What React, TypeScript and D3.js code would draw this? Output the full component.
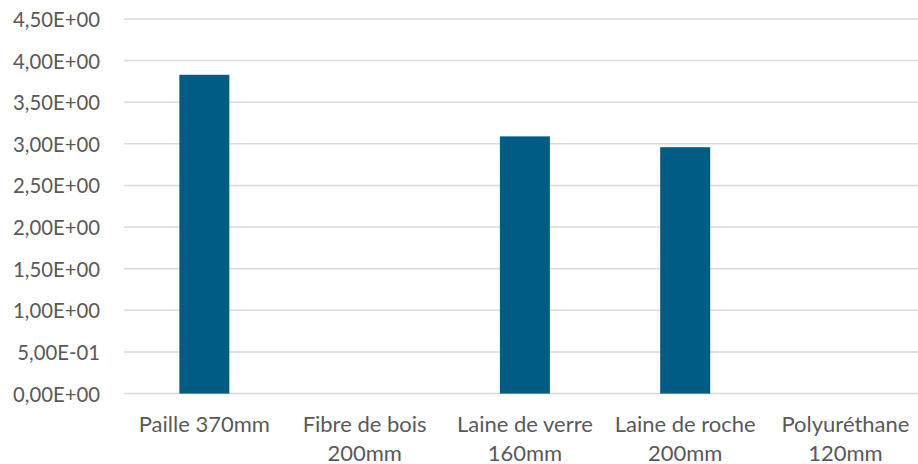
import React from "react";
import * as d3 from "d3";

const categories: string[][] = [
  ["Paille 370mm"],
  ["Fibre de bois", "200mm"],
  ["Laine de verre", "160mm"],
  ["Laine de roche", "200mm"],
  ["Polyuréthane", "120mm"],
];
const values: (number | null)[] = [3.83, null, 3.09, 2.96, null];
const yTicks: number[] = [0, 0.5, 1, 1.5, 2, 2.5, 3, 3.5, 4, 4.5];

const W = 918;
const H = 464;
const left = 124.2;
const right = 925.6;
const y0 = 393.6;
const yTop = 19;

function fmt(v: number): string {
  if (v === 0) return "0,00E+00";
  const e = Math.floor(Math.log10(Math.abs(v)));
  const m = v / Math.pow(10, e);
  const sign = e < 0 ? "-" : "+";
  const ee = String(Math.abs(e)).padStart(2, "0");
  return m.toFixed(2).replace(".", ",") + "E" + sign + ee;
}

export default function App() {
  const x = d3
    .scaleBand<number>()
    .domain(categories.map((_, i) => i))
    .range([left, right])
    .padding(0);
  const y = d3.scaleLinear().domain([0, 4.5]).range([y0, yTop]);
  const bw = x.bandwidth() * 0.312;
  const font = "Lato, 'Open Sans', sans-serif";
  return (
    <svg
      width={W}
      height={H}
      style={{ position: "absolute", left: 0, top: 0, background: "#fff" }}
    >
      <rect x={0} y={0} width={W} height={H} fill="#fff" />
      {yTicks.map((t) => (
        <g key={t}>
          <line
            x1={left}
            x2={right}
            y1={y(t)}
            y2={y(t)}
            stroke="#d9d9d9"
            strokeWidth={1.5}
          />
          <text
            x={100}
            y={y(t)}
            textAnchor="end"
            dominantBaseline="central"
            fill="#595959"
            fontSize={20.3}
            fontFamily={font}
          >
            {fmt(t)}
          </text>
        </g>
      ))}
      {values.map((v, i) =>
        v == null ? null : (
          <rect
            key={i}
            x={(x(i) as number) + x.bandwidth() / 2 - bw / 2}
            y={y(v)}
            width={bw}
            height={y(0) - y(v)}
            fill="#005C84"
          />
        )
      )}
      {categories.map((lines, i) => (
        <text
          key={i}
          textAnchor="middle"
          fill="#595959"
          fontSize={22}
          fontFamily={font}
        >
          {lines.map((l, j) => (
            <tspan
              key={j}
              x={(x(i) as number) + x.bandwidth() / 2}
              y={432 + j * 29}
            >
              {l}
            </tspan>
          ))}
        </text>
      ))}
    </svg>
  );
}
